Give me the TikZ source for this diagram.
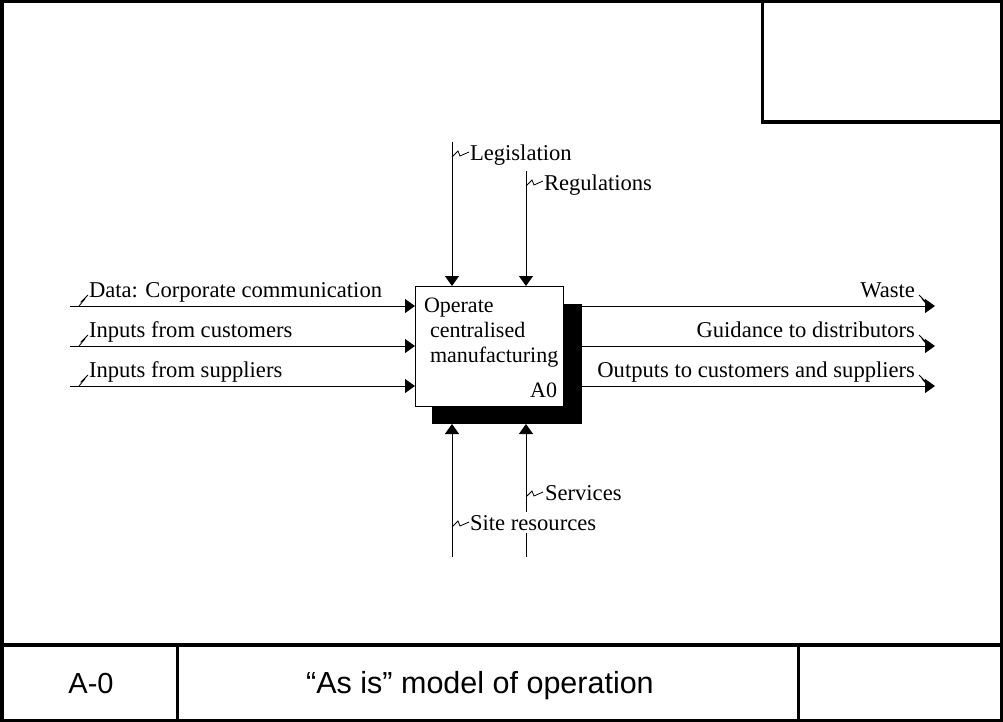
\documentclass[tikz,border=0pt]{standalone}
\usepackage{fontspec}
\setmainfont{Liberation Serif}
\newfontfamily\sansf{Liberation Sans}
\usetikzlibrary{arrows.meta}
\begin{document}
\begin{tikzpicture}[x=1pt,y=-1pt,
  frameline/.style={line width=3.5pt},
  flow/.style={line width=1pt,-{Triangle[length=10pt,width=14pt]}},
  squig/.style={line width=0.8pt,line join=miter},
  boxtxt/.style={inner sep=0pt,outer sep=0pt,font=\fontsize{22}{25}\selectfont},
  lbl/.style={inner sep=0pt,outer sep=0pt,font=\fontsize{22.6}{25}\selectfont},
  masklbl/.style={lbl,fill=white,inner ysep=3pt},
  cell/.style={inner sep=0pt,anchor=base,font=\sansf\fontsize{29}{31}\selectfont}]
\useasboundingbox (0,0) rectangle (1003,722);

% drawing frame
\draw[frameline] (1.75,1.75) rectangle (1001.25,720.25);
\draw[frameline] (762.5,1.75) -- (762.5,122) -- (1001.25,122);
\draw[frameline] (1.75,645) -- (1001.25,645);
\draw[frameline] (177.5,645) -- (177.5,720.25);
\draw[frameline] (798.5,645) -- (798.5,720.25);
\node[cell] (nodeno) at (91,693) {A-0};
\node[cell,font=\sansf\fontsize{30.5}{32}\selectfont] (title) at (480,693) {“As is” model of operation};

% activity box with its shadow
\node[fill=black,inner sep=0pt,outer sep=0pt,minimum width=150pt,minimum height=120pt] (shadow) at (507,364) {};
\node[draw,fill=white,line width=1pt,inner sep=0pt,outer sep=0pt,minimum width=148pt,minimum height=120pt] (box) at (489,346) {};
\node[boxtxt,anchor=base west] (t1) at (424,312) {Operate};
\node[boxtxt,anchor=base west] (t2) at (430,337) {centralised};
\node[boxtxt,anchor=base west] (t3) at (430,362) {manufacturing};
\node[boxtxt,anchor=base east] (t4) at (557,397) {A0};

% inputs
\coordinate (i1) at (70,306);
\coordinate (i2) at (70,346);
\coordinate (i3) at (70,386);
\foreach \c in {i1,i2,i3}{
  \draw[flow] (\c) -- (box.west |- \c);
  \draw[squig] ([xshift=9pt]\c) -- ++(5,-6) -- ++(-2,1) -- ++(6,-6);
}
\node[lbl,anchor=base west] (li1) at (89,297) {Data: Corporate communication};
\node[lbl,anchor=base west] (li2) at (89,337) {Inputs from customers};
\node[lbl,anchor=base west] (li3) at (89,377) {Inputs from suppliers};

% outputs
\coordinate (o1) at (935,306);
\coordinate (o2) at (935,346);
\coordinate (o3) at (935,386);
\foreach \c in {o1,o2,o3}{
  \draw[flow] (shadow.east |- \c) -- (\c);
  \draw[squig] ([xshift=-7pt]\c) -- ++(-5,-6) -- ++(2,1) -- ++(-6,-6);
}
\node[lbl,anchor=base east] (lo1) at (915,297) {Waste};
\node[lbl,anchor=base east] (lo2) at (915,337) {Guidance to distributors};
\node[lbl,anchor=base east] (lo3) at (915,377) {Outputs to customers and suppliers};

% controls
\coordinate (c1) at (452,142);
\coordinate (c2) at (526,171);
\draw[flow] (c1) -- (box.north -| c1);
\draw[flow] (c2) -- (box.north -| c2);
\draw[squig] ([yshift=-15pt]c1) -- ++(6,-6) -- ++(2,5) -- ++(9,-4);
\draw[squig] ([yshift=-15pt]c2) -- ++(6,-6) -- ++(2,5) -- ++(9,-4);
\node[lbl,anchor=base west] (lc1) at (470,161) {Legislation};
\node[lbl,anchor=base west] (lc2) at (544,190) {Regulations};

% mechanisms
\coordinate (m1) at (452,557);
\coordinate (m2) at (526,557);
\draw[flow] (m1) -- (shadow.south -| m1);
\draw[flow] (m2) -- (shadow.south -| m2);
\draw[squig] (526,497) -- ++(6,-6) -- ++(2,5) -- ++(9,-4);
\draw[squig] (452,527) -- ++(6,-6) -- ++(2,5) -- ++(9,-4);
\node[lbl,anchor=base west] (lm2) at (545,500) {Services};
\node[masklbl,anchor=base west] (lm1) at (470,530) {Site resources};
\end{tikzpicture}
\end{document}
